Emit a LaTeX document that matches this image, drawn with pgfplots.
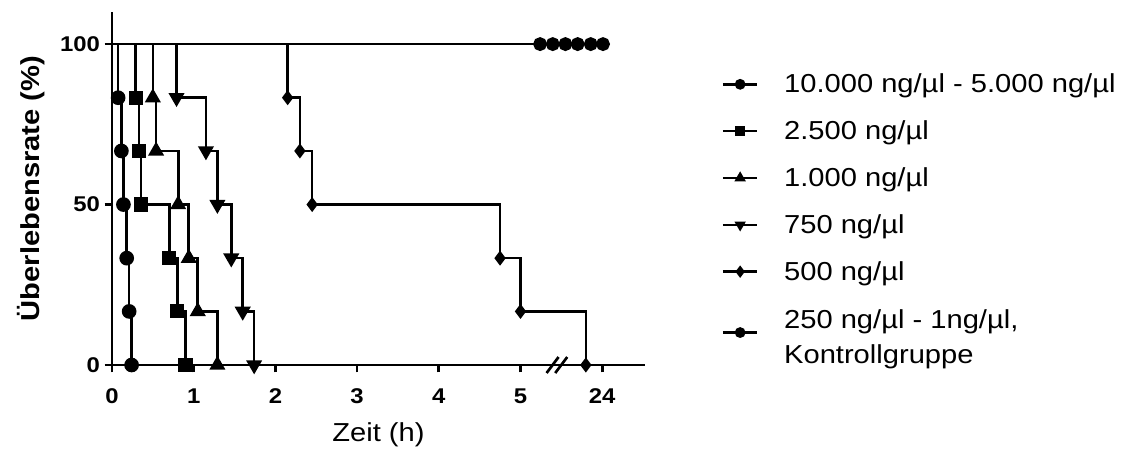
\documentclass[border=0pt]{standalone}
\usepackage{fontspec}
\setmainfont[FakeStretch=1.12]{Liberation Sans}
\usepackage{pgfplots}
\pgfplotsset{compat=1.18}
\begin{document}
\begin{tikzpicture}
\path[use as bounding box] (-84pt,-67.5pt) rectangle (757.5pt,273.75pt);
\begin{axis}[
 at={(0,0)}, anchor=south west, scale only axis,
 width=399.75pt, height=264.75pt,
 xmin=0, xmax=6.524, ymin=0, ymax=110,
 axis lines=left, axis line style={line width=2.1pt, -},
 xtick={0,1,2,3,4,5,6}, xticklabels={0,1,2,3,4,5,24},
 ytick={0,50,100}, yticklabels={0,50,100},
 tick align=outside, major tick length=5.5pt,
 tick style={line width=2pt, black},
 ticklabel style={font=\fontsize{16}{18}\bfseries\selectfont},
 xticklabel style={yshift=-9pt},
 xlabel={Zeit (h)}, ylabel={Überlebensrate (\%)},
 every axis x label/.style={at={(axis description cs:0.5,0)}, yshift=-52.5pt, anchor=center, font=\fontsize{19.5}{22}\selectfont},
 every axis y label/.style={at={(axis description cs:0,0.5)}, xshift=-61pt, rotate=90, anchor=center, font=\fontsize{19.5}{22}\bfseries\selectfont},
 clip=false,
 legend cell align=left,
 legend style={at={(1.143,0.833)}, anchor=north west, draw=none, fill=none,
   font=\fontsize{19.5}{22}\selectfont, row sep=15.5pt, inner sep=0pt},
 legend image code/.code={%
   \draw[#1, mark=none] (0pt,0pt) -- (26pt,0pt);
   \draw[#1, mark indices={1}, mark size=3pt] plot coordinates {(13pt,0pt)};
   \path (43pt,0pt);},
]
\addplot[const plot, black, line width=2pt, mark=*, mark size=4.5pt, mark indices={2,3,4,5,6,7}]
 coordinates {(0,100) (0.075,83.3) (0.115,66.7) (0.14,50) (0.18,33.3) (0.21,16.7) (0.24,0)};
\addlegendentry{10.000 ng/µl - 5.000 ng/µl}
\addplot[const plot, black, line width=2pt, mark=square*, mark size=4.3pt, mark indices={2,3,4,5,6,7}]
 coordinates {(0,100) (0.29,83.3) (0.33,66.7) (0.355,50) (0.70,33.3) (0.80,16.7) (0.90,0)};
\addlegendentry{2.500 ng/µl}
\addplot[const plot, black, line width=2pt, mark=triangle*, mark size=5pt, mark indices={2,3,4,5,6,7}]
 coordinates {(0,100) (0.50,83.3) (0.54,66.7) (0.81,50) (0.94,33.3) (1.05,16.7) (1.29,0)};
\addlegendentry{1.000 ng/µl}
\addplot[const plot, black, line width=2pt, mark=triangle*, mark options={rotate=180}, mark size=5pt, mark indices={2,3,4,5,6,7}]
 coordinates {(0,100) (0.79,83.3) (1.15,66.7) (1.29,50) (1.46,33.3) (1.60,16.7) (1.74,0)};
\addlegendentry{750 ng/µl}
\addplot[const plot, black, line width=2pt, mark=diamond*, mark size=4pt, mark indices={2,3,4,5,6,7}]
 coordinates {(0,100) (2.15,83.3) (2.30,66.7) (2.45,50) (4.75,33.3) (5.0,16.7) (5.80,0)};
\addlegendentry{500 ng/µl}
\addplot[const plot, black, line width=2pt, mark=*, mark size=4.2pt, mark indices={2,3,4,5,6,7}]
 coordinates {(0,100) (5.24,100) (5.395,100) (5.55,100) (5.70,100) (5.86,100) (6.01,100)};
\addlegendentry{\raisebox{6pt}{\begin{tabular}{@{}l@{}}250 ng/µl - 1ng/µl,\\[4pt]Kontrollgruppe\end{tabular}}}
\draw[line width=2pt] (axis cs:5.45,0) ++(-8pt,-6pt) -- ++(9pt,12pt);
\draw[line width=2pt] (axis cs:5.45,0) ++(-1.5pt,-6pt) -- ++(9pt,12pt);
\end{axis}
\end{tikzpicture}
\end{document}
